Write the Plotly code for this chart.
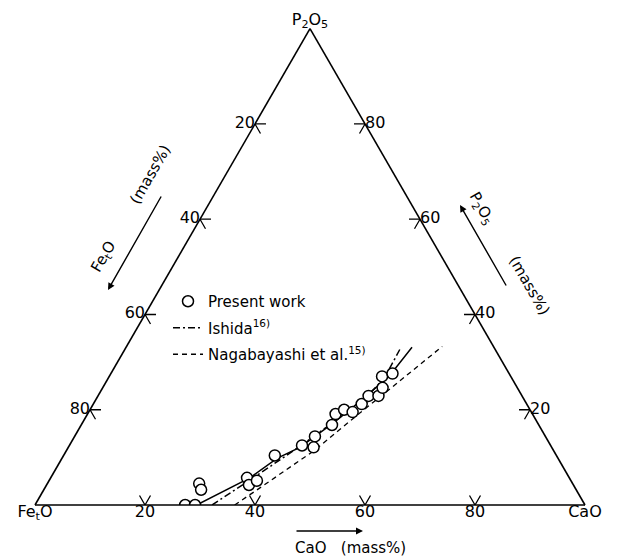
import plotly.graph_objects as go

# ---- data (mass%) ----
# Present work: measured slag compositions
pw_p2o5 = [0.0, 0.0, 4.5, 3.2, 5.7, 4.2, 5.1, 10.4, 12.5, 14.4, 12.1, 16.8,
           19.1, 20.0, 19.5, 21.2, 22.9, 22.9, 24.6, 27.0, 27.6]
pw_cao = [27.3, 29.1, 27.6, 28.6, 35.7, 36.8, 37.8, 38.4, 42.3, 43.7, 44.6, 45.6,
          45.1, 46.2, 48.0, 48.8, 49.2, 51.0, 50.9, 49.6, 51.2]

# Present work: fitted boundary
fit_p2o5 = [0.0, 5.7, 9.8, 12.1, 17.2, 21.7, 27.2, 33.1]
fit_cao = [29.4, 36.2, 39.1, 42.1, 45.6, 48.2, 50.9, 52.0]

# Ishida 16)
ish_p2o5 = [0.0, 5.9, 12.3, 17.6, 22.5, 26.8, 32.7]
ish_cao = [32.2, 37.0, 42.0, 45.7, 48.9, 50.2, 50.0]

# Nagabayashi et al. 15)
nag_p2o5 = [0.0, 3.6, 11.5, 19.3, 24.8, 33.3]
nag_cao = [36.3, 39.1, 45.1, 49.4, 52.6, 57.4]

# tick values on each side
feto_ticks = [20, 40, 60, 80]   # left side
p2o5_ticks = [20, 40, 60, 80]   # right side
cao_ticks = [20, 40, 60, 80]    # bottom side

FONT = "DejaVu Sans"
ARM = 2.0    # length of the chevron tick arms (mass%)


def rest(p, c):
    return [100 - x - y for x, y in zip(p, c)]


fig = go.Figure()

# chevron tick marks along the three sides
ta, tb, tc = [], [], []


def add_chevron(pts):
    for a, b, c in pts:
        ta.append(a)
        tb.append(b)
        tc.append(c)
    ta.append(None)
    tb.append(None)
    tc.append(None)


for f in feto_ticks:
    add_chevron([(100 - f, f - ARM, ARM), (100 - f, f, 0), (100 - f - ARM, f, ARM)])
for c in cao_ticks:
    add_chevron([(ARM, 100 - c, c - ARM), (0, 100 - c, c), (ARM, 100 - c - ARM, c)])
for p in p2o5_ticks:
    add_chevron([(p, ARM, 100 - p - ARM), (p, 0, 100 - p), (p - ARM, ARM, 100 - p)])

fig.add_trace(go.Scatterternary(
    a=ta, b=tb, c=tc, mode="lines", connectgaps=False,
    line=dict(color="black", width=1.3), showlegend=False, hoverinfo="skip"))

label_font = dict(family=FONT, size=16, color="black")

# tick labels
fig.add_trace(go.Scatterternary(
    a=[100 - f for f in feto_ticks], b=feto_ticks, c=[0] * len(feto_ticks),
    mode="text", text=[str(f) for f in feto_ticks], textposition="middle left",
    textfont=label_font, cliponaxis=False, showlegend=False, hoverinfo="skip"))
fig.add_trace(go.Scatterternary(
    a=[0] * len(cao_ticks), b=[100 - c for c in cao_ticks], c=cao_ticks,
    mode="text", text=[str(c) for c in cao_ticks], textposition="bottom center",
    textfont=label_font, cliponaxis=False, showlegend=False, hoverinfo="skip"))
fig.add_trace(go.Scatterternary(
    a=p2o5_ticks, b=[0] * len(p2o5_ticks), c=[100 - p for p in p2o5_ticks],
    mode="text", text=[str(p) for p in p2o5_ticks], textposition="middle right",
    textfont=label_font, cliponaxis=False, showlegend=False, hoverinfo="skip"))

# corner labels
fig.add_trace(go.Scatterternary(
    a=[100, 0, 0], b=[0, 100, 0], c=[0, 0, 100], mode="text",
    text=["P<sub>2</sub>O<sub>5</sub>", "Fe<sub>t</sub>O", "CaO"],
    textposition=["top center", "bottom center", "bottom center"],
    textfont=label_font, cliponaxis=False, showlegend=False, hoverinfo="skip"))

# boundary curves
fig.add_trace(go.Scatterternary(
    a=fit_p2o5, b=rest(fit_p2o5, fit_cao), c=fit_cao, mode="lines",
    line=dict(color="black", width=1.5), legendgroup="pw", showlegend=False,
    hoverinfo="skip"))
fig.add_trace(go.Scatterternary(
    a=ish_p2o5, b=rest(ish_p2o5, ish_cao), c=ish_cao, mode="lines",
    line=dict(color="black", width=1.5, dash="7px,3px,2px,3px"),
    name="Ishida<sup>16)</sup>", legendgroup="ish", legendrank=2))
fig.add_trace(go.Scatterternary(
    a=nag_p2o5, b=rest(nag_p2o5, nag_cao), c=nag_cao, mode="lines",
    line=dict(color="black", width=1.3, dash="5px,4px"),
    name="Nagabayashi et al.<sup>15)</sup>", legendgroup="nag", legendrank=3))

# measured points
fig.add_trace(go.Scatterternary(
    a=pw_p2o5, b=rest(pw_p2o5, pw_cao), c=pw_cao, mode="markers",
    marker=dict(symbol="circle", size=11, color="white",
                line=dict(color="black", width=1.5)),
    name="Present work", legendgroup="pw", legendrank=1))

axis = dict(showticklabels=False, ticks="", ticklen=0, tickwidth=0,
            showgrid=False, linecolor="black", linewidth=1.6,
            title=dict(text=""), min=0)

W, H = 619, 559


def px(x):
    return x / W


def py(y):
    return 1 - y / H


ann_font = dict(family=FONT, size=15, color="black")


def title_text(x, y, text, angle=0):
    return dict(x=px(x), y=py(y), text=text, textangle=angle, showarrow=False,
                font=ann_font, xanchor="center", yanchor="middle")


def arrow(x, y, ax, ay):
    return dict(x=px(x), y=py(y), ax=ax, ay=ay, text="", showarrow=True,
                arrowhead=2, arrowsize=1, arrowwidth=1.4, arrowcolor="black")


annotations = [
    # left side title and arrow
    title_text(103, 257, "Fe<sub>t</sub>O", -60),
    title_text(150, 175, "(mass%)", -60),
    arrow(108, 290, 54, -95),
    # right side title and arrow
    title_text(482, 208, "P<sub>2</sub>O<sub>5</sub>", 60),
    title_text(529, 285, "(mass%)", 60),
    arrow(460, 205, 47, 82),
    # bottom title and arrow
    title_text(350, 548, "CaO   (mass%)"),
    arrow(363, 531, -68, 0),
]
for a in annotations:
    a["xref"] = "paper"
    a["yref"] = "paper"

fig.update_layout(
    width=W, height=H,
    margin=dict(l=0, r=0, t=0, b=0),
    paper_bgcolor="white",
    font=dict(family=FONT, color="black"),
    ternary=dict(
        sum=100, bgcolor="white",
        aaxis=axis, baxis=axis, caxis=axis,
        domain=dict(x=[35 / W, 585 / W], y=[54 / H, (54 + 476.3) / H]),
    ),
    legend=dict(x=px(168), y=py(285), xanchor="left", yanchor="top",
                bgcolor="rgba(0,0,0,0)", font=dict(family=FONT, size=15),
                traceorder="grouped", tracegroupgap=4, itemwidth=30),
    annotations=annotations,
)

fig.write_html("out.html")
